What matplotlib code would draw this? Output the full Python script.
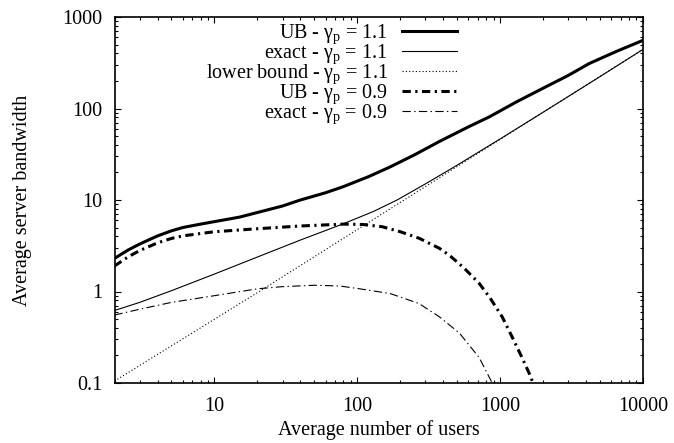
import numpy as np
import matplotlib
matplotlib.use("Agg")
import matplotlib.pyplot as plt

# values (log-log)
ub11_x = [2, 2.5, 3, 4, 5, 6, 8, 10, 15, 20, 30, 40, 60, 80, 120, 170, 250, 380, 600, 840, 1300, 1900, 3000, 4200, 6500, 10000]
ub11_y = [2.3, 2.85, 3.3, 4.05, 4.6, 5.0, 5.45, 5.8, 6.5, 7.3, 8.6, 10, 12, 14, 18, 23, 31, 44, 63, 81, 118, 160, 230, 310, 420, 556]

ex11_x = [2, 3, 5, 10, 20, 40, 80, 130, 190, 300, 500, 1000, 2000, 5000, 10000]
ex11_y = [0.62, 0.76, 1.02, 1.55, 2.38, 3.65, 5.5, 7.5, 10, 15, 24, 46.5, 91, 223, 443]

lb11_x = [2, 20, 200, 2000, 10000]
lb11_y = [0.105, 0.97, 9.4, 91, 443]

ub09_x = [2, 2.5, 3, 4, 5, 6, 8, 10, 20, 40, 80, 110, 150, 200, 272, 375, 440, 560, 713, 850, 1033, 1200, 1400, 1596, 1700]
ub09_y = [1.9, 2.4, 2.8, 3.4, 3.8, 4.05, 4.3, 4.5, 4.85, 5.2, 5.45, 5.4, 5.1, 4.5, 3.81, 2.97, 2.5, 1.8, 1.23, 0.85, 0.53, 0.33, 0.2, 0.128, 0.1]

ex09_x = [2, 3, 5, 10, 20, 30, 50, 75, 100, 170, 270, 375, 520, 713, 880, 950]
ex09_y = [0.553, 0.64, 0.76, 0.9, 1.07, 1.13, 1.17, 1.15, 1.08, 0.95, 0.74, 0.53, 0.35, 0.19, 0.1, 0.08]

plt.rcParams['font.family'] = ['Liberation Serif', 'DejaVu Serif']
plt.rcParams['mathtext.fontset'] = 'custom'
plt.rcParams['mathtext.rm'] = 'Liberation Serif'
plt.rcParams['mathtext.it'] = 'Liberation Serif:italic'
plt.rcParams['lines.scale_dashes'] = False
plt.rcParams['font.size'] = 14.5

fig = plt.figure(figsize=(6.74, 4.43), dpi=100)
ax = fig.add_axes([114.5 / 674, 60 / 443, (643 - 114.5) / 674, (383 - 17) / 443])

g = r"$\mathrm{\gamma_p}$"
ax.plot(ub11_x, ub11_y, color='black', lw=2.2, label="UB - " + g + " = 1.1")
ax.plot(ex11_x, ex11_y, color='black', lw=0.8, label="exact - " + g + " = 1.1")
ax.plot(lb11_x, lb11_y, color='black', lw=0.8, linestyle=(0, (0.8, 1.6)),
        label="lower bound - " + g + " = 1.1")
ax.plot(ub09_x, ub09_y, color='black', lw=2.2, linestyle=(0, (6, 3.2, 1.6, 3.2)),
        label="UB - " + g + " = 0.9")
ax.plot(ex09_x, ex09_y, color='black', lw=0.8, linestyle=(0, (6, 2.4, 1, 2.4)),
        label="exact - " + g + " = 0.9")

ax.set_xscale('log')
ax.set_yscale('log')
ax.set_xlim(2, 10000)
ax.set_ylim(0.1, 1000)
ax.set_xticks([10, 100, 1000, 10000])
ax.set_xticklabels(["10", "100", "1000", "10000"])
ax.set_yticks([0.1, 1, 10, 100, 1000])
ax.set_yticklabels(["0.1", "1", "10", "100", "1000"])

ax.tick_params(which='both', direction='in', top=True, right=True, width=0.8)
ax.tick_params(which='major', length=4.5)
ax.tick_params(which='minor', length=2.3)
ax.tick_params(axis='x', pad=10)
ax.tick_params(axis='y', pad=9)
for s in ax.spines.values():
    s.set_linewidth(1.2)

ax.set_xlabel("Average number of users")
ax.set_ylabel("Average server bandwidth")
ax.xaxis.set_label_coords(0.5, -0.10)
ax.yaxis.set_label_coords(-0.157, 0.5)

ax.legend(loc='upper right', bbox_to_anchor=(0.648, 0.984), frameon=False,
          markerfirst=False, borderpad=0, borderaxespad=0, handlelength=2.75,
          handletextpad=0.7, labelspacing=-0.18)

fig.savefig("out.png", dpi=100)
